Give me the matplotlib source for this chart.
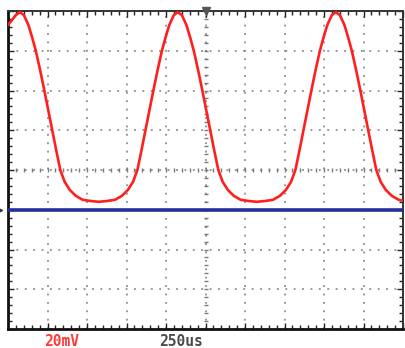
import matplotlib
matplotlib.use("Agg")
import matplotlib.pyplot as plt
import numpy as np

# scope settings
VOLTS_PER_DIV = 20     # mV
TIME_PER_DIV = 250     # us
X_DIVS = 10
Y_DIVS = 8

# channel 1 trace (red): time in us, level in mV
ch1_time = [0, 21, 50, 75, 100, 129, 154, 176, 204, 230, 255, 280, 305, 331,
            359, 391, 429, 473, 523, 575, 627, 677, 721, 759, 791, 819, 845,
            870, 895, 920, 946, 974, 996, 1021, 1050, 1075, 1100, 1129, 1154,
            1176, 1204, 1230, 1255, 1280, 1305, 1331, 1359, 1391, 1429, 1473,
            1523, 1575, 1627, 1677, 1721, 1759, 1791, 1819, 1845, 1870, 1895,
            1920, 1946, 1974, 1996, 2021, 2050, 2075, 2100, 2129, 2154, 2176,
            2204, 2230, 2255, 2280, 2305, 2331, 2359, 2391, 2429, 2473, 2500]
ch1_level = [73, 75, 78, 79.4, 78, 73, 66.4, 60, 50, 40, 30, 20, 10, 0,
             -6, -10, -13, -15, -15.6, -16, -15.6, -15, -13, -10, -6, 0, 10,
             20, 30, 40, 50, 60, 66.4, 73, 78, 79.4, 78, 73, 66.4,
             60, 50, 40, 30, 20, 10, 0, -6, -10, -13, -15,
             -15.6, -16, -15.6, -15, -13, -10, -6, 0, 10, 20, 30,
             40, 50, 60, 66.4, 73, 78, 79.4, 78, 73, 66.4, 60,
             50, 40, 30, 20, 10, 0, -6, -10, -13, -15, -15.5]

# channel 2 (blue) sits flat one division below centre
ch2_time = [0, 2500]
ch2_level = [-20, -20]

labels = ["20mV", "250us"]
label_colors = ["#ff3b3b", "#4a4a4a"]


def draw_graticule(ax, xmax, ymax):
    '''dotted scope grid with small ticks on the border and centre lines'''
    grid_color = "#7a7a7a"
    ax.set_xticks(np.arange(0, xmax + 1, TIME_PER_DIV))
    ax.set_yticks(np.arange(-ymax, ymax + 1, VOLTS_PER_DIV))
    ax.set_xticks(np.arange(0, xmax + 1, TIME_PER_DIV / 5), minor=True)
    ax.set_yticks(np.arange(-ymax, ymax + 1, VOLTS_PER_DIV / 5), minor=True)
    ax.grid(True, which="major", color=grid_color, linewidth=1.1,
            linestyle=(0, (1.2, 4.3)))
    ax.tick_params(which="both", direction="in", top=True, right=True,
                   labelbottom=False, labelleft=False, color="#222222")
    ax.tick_params(which="major", length=4, width=1)
    ax.tick_params(which="minor", length=3, width=1)

    # sub-division marks on the centre cross
    xs = np.arange(0, xmax + 1, TIME_PER_DIV / 5)
    ys = np.arange(-ymax, ymax + 1, VOLTS_PER_DIV / 5)
    ax.plot(xs, np.zeros_like(xs), linestyle="none", marker="|",
            markersize=3, color=grid_color, mew=1)
    ax.plot(np.full_like(ys, xmax / 2), ys, linestyle="none", marker="_",
            markersize=3, color=grid_color, mew=1)


def main() -> None:
    fig = plt.figure(figsize=(4.05, 3.48), dpi=100)
    ax = fig.add_axes([8 / 405, 19 / 348, 395 / 405, 318 / 348])

    xmax = X_DIVS * TIME_PER_DIV
    ymax = Y_DIVS / 2 * VOLTS_PER_DIV
    ax.set_xlim(0, xmax)
    ax.set_ylim(-ymax, ymax)

    draw_graticule(ax, xmax, ymax)

    ax.plot(ch2_time, ch2_level, color="#23309a", linewidth=2.6, zorder=3)
    ax.plot(ch1_time, ch1_level, color="#ff1f1f", linewidth=1.9, zorder=4,
            solid_joinstyle="round")

    # trigger and ground markers
    ax.plot([xmax / 2], [ymax], marker="v", markersize=6, color="#555555",
            clip_on=False, zorder=5)
    ax.plot([-60], [ch2_level[0]], marker=">", markersize=4, color="#333333",
            clip_on=False, zorder=5)

    for side in ["left", "bottom"]:
        ax.spines[side].set_linewidth(2)
        ax.spines[side].set_color("#111111")
    for side in ["top", "right"]:
        ax.spines[side].set_linewidth(1.4)
        ax.spines[side].set_color("#333333")

    fig.text(44 / 405, 1 - 341 / 348, labels[0], color=label_colors[0],
             fontsize=10.5, fontweight="bold", family="DejaVu Sans Mono",
             va="center")
    fig.text(159 / 405, 1 - 341 / 348, labels[1], color=label_colors[1],
             fontsize=10.5, fontweight="bold", family="DejaVu Sans Mono",
             va="center")

    fig.savefig("out.png", dpi=100)
    plt.close(fig)


if __name__ == "__main__":
    main()
